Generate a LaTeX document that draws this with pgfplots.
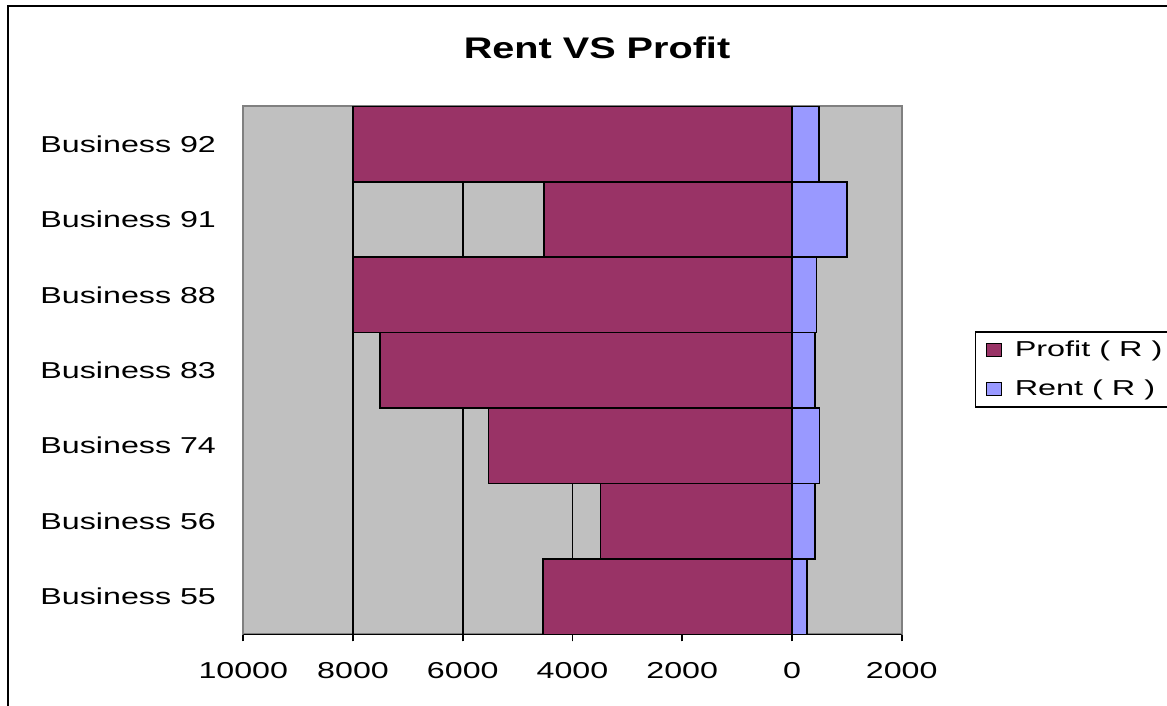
\documentclass[border=0pt]{standalone}
\usepackage{fontspec}
\setmainfont[FakeStretch=1.4]{Liberation Sans}
\newfontfamily\titlefont[FakeStretch=1.33]{Liberation Sans}
\newfontfamily\legfont[FakeStretch=1.5]{Liberation Sans}
\usepackage{pgfplots}
\pgfplotsset{compat=1.18}
\definecolor{profitc}{HTML}{993366}
\definecolor{rentc}{HTML}{9999FF}
\definecolor{plotbg}{HTML}{C0C0C0}
\definecolor{framegray}{HTML}{808080}

\begin{document}
\begin{tikzpicture}
% chart title, centred on the chart area
\node[font=\titlefont\fontsize{14.9}{16}\selectfont\bfseries, anchor=base] at (298.5pt,-29.5pt) {Rent VS Profit};

\begin{axis}[
  at={(121.65pt,-317.15pt)}, anchor=south west,
  width=329.2pt, height=264pt, scale only axis,
  xmin=-10000, xmax=2000, ymin=-0.5, ymax=6.5,
  scaled x ticks=false,
  xtick={-10000,-8000,...,2000},
  xticklabels={\textnormal{10000},\textnormal{8000},\textnormal{6000},\textnormal{4000},\textnormal{2000},\textnormal{0},\textnormal{2000}},
  extra x ticks={-8000,-6000,-4000,-2000},
  extra x tick labels={},
  extra x tick style={grid=major, major grid style={black, line width=0.75pt}},
  xtick pos=bottom,
  ytick={0,...,6},
  yticklabels={Business 55,Business 56,Business 74,Business 83,Business 88,Business 91,Business 92},
  ytick style={draw=none},
  xtick style={black, line width=0.8pt},
  tick align=outside, major tick length=3.5pt,
  tick label style={font=\fontsize{11.5}{13}\selectfont},
  xticklabel style={inner sep=0pt, anchor=north, yshift=-10.5pt},
  yticklabel style={inner sep=0pt, anchor=east, xshift=-10pt},
  axis line style={draw=framegray, line width=1pt},
  axis background/.style={fill=plotbg},
  area legend,
  legend image code/.code={\draw[#1, line width=0.6pt] (0pt,-3.25pt) rectangle (7.5pt,3.25pt);},
  legend cell align=left,
  legend style={at={(1.111,0.5744)}, anchor=north west, draw=black, line width=0.8pt,
    font=\legfont\fontsize{10.8}{12}\selectfont, row sep=6pt,
    inner xsep=5pt, inner ysep=2.5pt,
    nodes={inner xsep=6.5pt}},
]
\addplot[xbar, bar width=1, bar shift=0pt, fill=profitc, draw=black, line width=0.8pt]
  coordinates {(-4540,0) (-3490,1) (-5530,2) (-7510,3) (-8000,4) (-4520,5) (-8000,6)};
\addlegendentry{Profit ( R )}
\addplot[xbar, bar width=1, bar shift=0pt, fill=rentc, draw=black, line width=0.8pt]
  coordinates {(270,0) (415,1) (505,2) (415,3) (450,4) (1000,5) (490,6)};
\addlegendentry{Rent ( R )}
\draw[black, line width=0.8pt] (rel axis cs:0,0) -- (rel axis cs:1,0);
\draw[black, line width=0.8pt] (axis cs:0,-0.5) -- (axis cs:0,6.5);
\end{axis}

% chart area frame, running off the right and bottom edges
\draw[line width=1pt] (3.75pt,-3pt) rectangle (620pt,-400pt);
\pgfresetboundingbox
\useasboundingbox (0,0) rectangle (583.5pt,-353pt);
\end{tikzpicture}
\end{document}
